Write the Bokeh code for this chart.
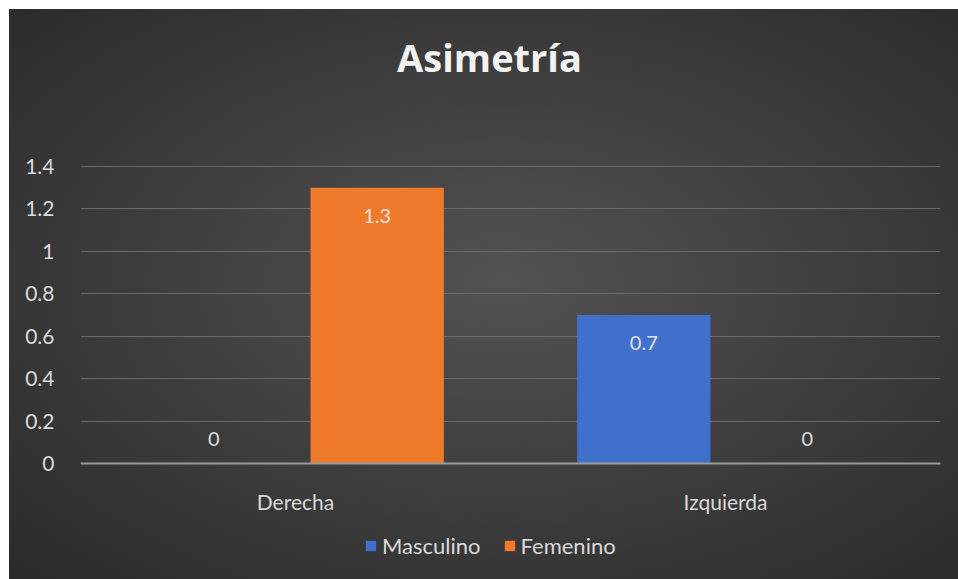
from bokeh.plotting import figure
from bokeh.models import (ColumnDataSource, FactorRange, Range1d, FixedTicker, LabelSet,
                          Label, Legend, LegendItem, InlineStyleSheet)
from bokeh.transform import dodge
from bokeh.core.properties import value
from bokeh.embed import file_html
from bokeh.resources import INLINE

# ---- data ----
title_text = "Asimetría"
categories = ["Derecha", "Izquierda"]
series_names = ["Masculino", "Femenino"]
masculino = [0, 0.7]
femenino = [1.3, 0]
y_ticks = [0, 0.2, 0.4, 0.6, 0.8, 1.0, 1.2, 1.4]
y_tick_labels = ["0", "0.2", "0.4", "0.6", "0.8", "1", "1.2", "1.4"]

colors = {"Masculino": "#4070CC", "Femenino": "#F07A2C"}
FONT = "Lato"
TXT = "#d9d9d9"

# layout: frame spans the full height; the value axis 0..1.4 occupies the middle band
W, H = 949, 570
PX_PER_UNIT = 297 / 1.4
Y_MAX = 454 / PX_PER_UNIT          # space above 1.4 for the title
Y_MIN = -116 / PX_PER_UNIT         # space below 0 for category labels and legend

p = figure(width=W, height=H, x_range=FactorRange(*categories, range_padding=0),
           y_range=Range1d(Y_MIN, Y_MAX), output_backend="svg", toolbar_location=None,
           min_border_left=71, min_border_right=18, min_border_top=0, min_border_bottom=0)
p.margin = (9, 0, 0, 9)
p.stylesheets = [InlineStyleSheet(css=":host { background: radial-gradient(ellipse farthest-corner at 52% 48%, #525252 0%, #444444 35%, #2a2a2a 100%); }")]
p.background_fill_alpha = 0
p.border_fill_alpha = 0
p.outline_line_color = None

def src(vals):
    return ColumnDataSource(dict(cat=categories, val=vals,
                                 txt=[f"{v:g}" for v in vals],
                                 off=[-28 if v > 0 else 25 for v in vals]))

s_m = src(masculino)
s_f = src(femenino)
offs = {"Masculino": -0.19, "Femenino": 0.19}
r_m = p.vbar(x=dodge("cat", offs["Masculino"], range=p.x_range), top="val", width=0.31,
             source=s_m, fill_color=colors["Masculino"], line_color=None)
r_f = p.vbar(x=dodge("cat", offs["Femenino"], range=p.x_range), top="val", width=0.31,
             source=s_f, fill_color=colors["Femenino"], line_color=None)

for s, name in ((s_m, "Masculino"), (s_f, "Femenino")):
    p.add_layout(LabelSet(x=dodge("cat", offs[name], range=p.x_range), y="val", text="txt",
                          y_offset="off", source=s, text_align="center", text_baseline="middle",
                          text_font=value(FONT), text_font_size="20px", text_color="#f2f2f2",
                          text_alpha=0.9))

# axes
p.yaxis.ticker = FixedTicker(ticks=y_ticks)
p.yaxis.major_label_overrides = {t: l for t, l in zip(y_ticks, y_tick_labels)}
p.yaxis.axis_line_color = None
p.yaxis.major_tick_line_color = None
p.yaxis.minor_tick_line_color = None
p.yaxis.major_label_standoff = 20
for ax in (p.xaxis, p.yaxis):
    ax.major_label_text_font = FONT
    ax.major_label_text_font_size = "21px"
    ax.major_label_text_color = TXT
p.xaxis.fixed_location = 0
p.xaxis.axis_line_color = "#9a9a9a"
p.xaxis.axis_line_width = 2
p.xaxis.major_tick_line_color = None
p.xaxis.minor_tick_line_color = None
p.xaxis.major_label_standoff = 19
p.xgrid.grid_line_color = None
p.ygrid.grid_line_color = "#6a6a6a"
p.ygrid.grid_line_width = 1

# title (placed in the band above the value axis)
p.add_layout(Label(x=409, y=571 - 48, x_units="screen", y_units="screen", text=title_text,
                   text_align="center", text_baseline="middle", text_font="Open Sans",
                   text_font_style="bold", text_font_size="38px", text_color="#f2f2f2"))

# legend
legend = Legend(items=[LegendItem(label=series_names[0], renderers=[r_m]),
                       LegendItem(label=series_names[1], renderers=[r_f])],
                location=(284, 20), orientation="horizontal",
                background_fill_alpha=0, border_line_color=None,
                glyph_width=13, glyph_height=13, label_standoff=5, spacing=22,
                padding=0, margin=0,
                label_text_font=FONT, label_text_font_size="22px", label_text_color=TXT)
p.add_layout(legend)

open("out.html", "w").write(file_html(p, INLINE))
